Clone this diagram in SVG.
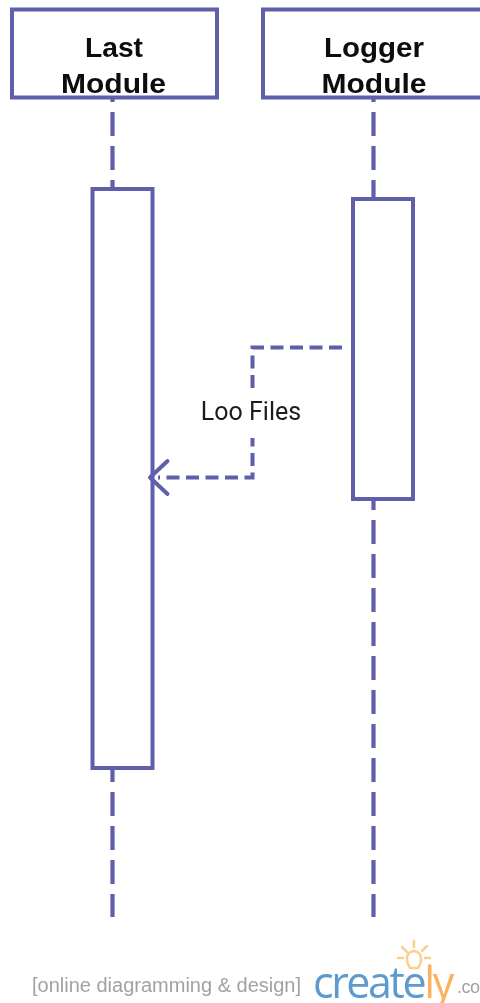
<svg xmlns="http://www.w3.org/2000/svg" width="480" height="1003" viewBox="0 0 480 1003">
<style>
.box{fill:#fff;stroke:#5f5fac;stroke-width:4}
.life{fill:none;stroke:#5f5fac;stroke-width:4.200}
.msg{fill:none;stroke:#5f5fac;stroke-width:4;stroke-dasharray:13 6.500}
.head{fill:none;stroke:#5f5fac;stroke-width:4;stroke-linecap:round;stroke-linejoin:round}
.title{font:bold 28px "Liberation Sans",Arial,sans-serif;fill:#0a0a0a;text-anchor:middle}
.lbl{font:25px Roboto,"Liberation Sans",sans-serif;fill:#1c1c1c;text-anchor:middle}
.tag{font:20px "Liberation Sans",Arial,sans-serif;fill:#a2a2a2}
.logo{font:43px "Open Sans","Liberation Sans",sans-serif;fill:#5b9bd0;letter-spacing:-2.400px}
.bulb{fill:none;stroke:#fbd08c;stroke-width:2.500;stroke-linecap:round}
</style>
<defs><filter id="soft" x="-5%" y="-5%" width="110%" height="110%"><feGaussianBlur stdDeviation="0.55"/></filter></defs>
<rect width="480" height="1003" fill="#fff"/>
<g filter="url(#soft)">
<g id="last-module">
<rect class="box" x="12" y="9.500" width="205" height="88"/>
<text class="title" x="114" y="56.500" textLength="58" lengthAdjust="spacingAndGlyphs">Last</text>
<text class="title" x="113.500" y="92.500" textLength="105" lengthAdjust="spacingAndGlyphs">Module</text>
</g>
<g id="logger-module">
<rect class="box" x="263" y="9.500" width="225" height="88"/>
<text class="title" x="374" y="56.500" textLength="100" lengthAdjust="spacingAndGlyphs">Logger</text>
<text class="title" x="374" y="92.500" textLength="105" lengthAdjust="spacingAndGlyphs">Module</text>
</g>
<g id="last-activation"><rect class="box" x="92.500" y="189" width="60" height="579"/></g>
<g id="logger-activation"><rect class="box" x="353" y="199" width="60" height="300"/></g>
<g id="connectors">
<path class="life" stroke-dasharray="24 10" d="M112.500 112V188"/>
<path class="life" d="M112.500 98V102M112.500 769V782"/>
<path class="life" stroke-dasharray="24 10" d="M112.500 792V917"/>
<path class="life" stroke-dasharray="24 10" d="M373.500 112V198"/>
<path class="life" d="M373.500 98V102M373.500 501V510"/>
<path class="life" stroke-dasharray="24 10" d="M373.500 520V917"/>
<path class="msg" d="M342 347.500H252.500V477.500H158"/>
<path class="head" d="M167.500 461L150 477.500L167.500 494"/>
</g>
<g id="message-label">
<rect x="200" y="394" width="102" height="44" fill="#fff"/>
<text class="lbl" x="251" y="419.500">Loo Files</text>
</g>
<g id="watermark">
<text class="tag" x="32" y="992">[online diagramming &amp; design]</text>
<text class="logo" x="313" y="998">create<tspan fill="#fbb25c">ly</tspan></text>
<text x="457" y="993" font-family="Liberation Sans, sans-serif" font-size="18" fill="#a2a2a2" textLength="23">.co</text>
<path class="bulb" d="M414 941V947M402 947L407 952M427 946L422 951M398 958H403M430 958H425M410 968C405 960 406 952 414 951C422 952 423 960 418 968Z"/>
</g>
</g>
</svg>
